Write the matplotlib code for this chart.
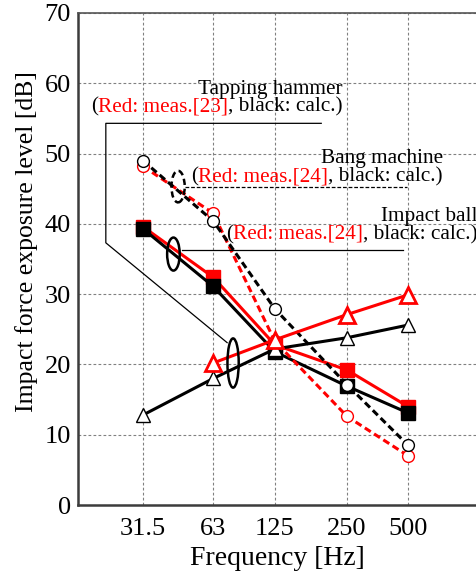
import numpy as np
import matplotlib.pyplot as plt
from matplotlib.patches import Ellipse

plt.rcParams['font.family'] = ['Liberation Serif', 'DejaVu Serif']

# Octave band centre frequencies
freqs = ['31.5', '63', '125', '250', '500']
xpos = [0, 1.06, 1.99, 3.08, 4.0]

# Tapping hammer (squares)
hammer_meas = [39.6, 32.4, 22.8, 19.2, 14.0]
hammer_calc = [39.3, 31.1, 21.8, 16.9, 13.1]
# Bang machine (circles, dashed)
bang_meas = [48.2, 41.5, 23.3, 12.6, 7.0]
bang_calc = [49.0, 40.4, 27.9, 17.1, 8.5]
# Impact ball (triangles)
ball_meas = [np.nan, 20.2, 23.5, 27.1, 29.9]
ball_calc = [12.8, 18.0, 22.2, 23.8, 25.6]

fig = plt.figure(figsize=(4.77, 5.74), dpi=100)
ax = fig.add_axes([0.1635, 0.1202, 0.8365, 0.8572])

lw = 2.2
dash = (2.3, 1.3)

# squares
ax.plot(xpos, hammer_meas, color='red', lw=lw, marker='s', ms=9.5,
        mfc='red', mec='red', zorder=3.1)
ax.plot(xpos, hammer_calc, color='black', lw=lw, marker='s', ms=9.5,
        mfc='black', mec='black', zorder=3.2)
# circles
ax.plot(xpos, bang_meas, color='red', lw=lw, dashes=dash, marker='o', ms=8.5,
        mfc='white', mec='red', mew=1.0, zorder=3.3)
ax.plot(xpos, bang_calc, color='black', lw=lw, dashes=dash, marker='o', ms=8.5,
        mfc='white', mec='black', mew=1.0, zorder=3.4)
# triangles
ax.plot(xpos, ball_calc, color='black', lw=lw, marker='^', ms=10,
        mfc='white', mec='black', mew=1.0, zorder=3.5)
ax.plot(xpos, ball_meas, color='red', lw=lw, marker='^', ms=11,
        mfc='white', mec='red', mew=2.0, zorder=3.6)

ax.set_xlim(-0.98, 5.04)
ax.set_ylim(0, 70)
ax.set_xticks(xpos)
ax.set_xticklabels(freqs)
ax.set_yticks(range(0, 71, 10))
ax.tick_params(length=0, labelsize=19, pad=5)
ax.tick_params(axis='x', pad=9)
ax.grid(True, color='#808080', lw=0.8, ls=(0, (2.5, 2)))
ax.set_axisbelow(True)

for s in ['left', 'bottom']:
    ax.spines[s].set_color('#3c3c3c')
    ax.spines[s].set_linewidth(1.8)
ax.spines['top'].set_color('#555555')
ax.spines['top'].set_linewidth(1.2)
ax.spines['right'].set_visible(False)

ax.set_xlabel('Frequency [Hz]', fontsize=20, labelpad=5)
ax.set_ylabel('Impact force exposure level [dB]', fontsize=18.5, labelpad=5)
ax.yaxis.label.set_y(0.535)


def two_tone(x, y, title, ref):
    parts = [('(', 'black'), ('Red: meas.' + ref, 'red'), (', black: calc.)', 'black')]
    t = ax.text(x, y, parts[0][0], color=parts[0][1], fontsize=15.3,
                ha='left', va='center', zorder=5)
    for s, c in parts[1:]:
        t = ax.annotate(s, xy=(1, 0.5), xycoords=t, color=c, fontsize=15.3,
                        ha='left', va='center', zorder=5)
    ax.annotate(title, xy=(1, 0.5), xycoords=t, xytext=(0, 13),
                textcoords='offset points', fontsize=15.3,
                ha='right', va='center', zorder=5)


# Tapping hammer callout
two_tone(-0.78, 56.6, 'Tapping hammer', '[23]')
ax.plot([2.69, -0.56, -0.56, 1.27], [54.3, 54.3, 37.3, 23.1],
        color='black', lw=0.9, zorder=4)
ax.add_patch(Ellipse((1.36, 20.2), 0.17, 7.0, fill=False, ec='black',
                     lw=1.8, zorder=4))

# Bang machine callout
two_tone(0.73, 46.7, 'Bang machine', '[24]')
ax.plot([0.63, 3.98], [45.2, 45.2], color='black', lw=0.9,
        ls=(0, (3, 1.5)), zorder=4)
ax.add_patch(Ellipse((0.53, 45.3), 0.2, 4.5, fill=False, ec='black',
                     lw=1.8, ls=(0, (2.5, 1.5)), zorder=4))

# Impact ball callout
two_tone(1.26, 38.5, 'Impact ball', '[24]')
ax.plot([0.59, 3.92], [36.3, 36.3], color='black', lw=0.9, zorder=4)
ax.add_patch(Ellipse((0.46, 35.7), 0.19, 4.7, fill=False, ec='black',
                     lw=1.8, zorder=4))

fig.savefig('out.png', dpi=100)
